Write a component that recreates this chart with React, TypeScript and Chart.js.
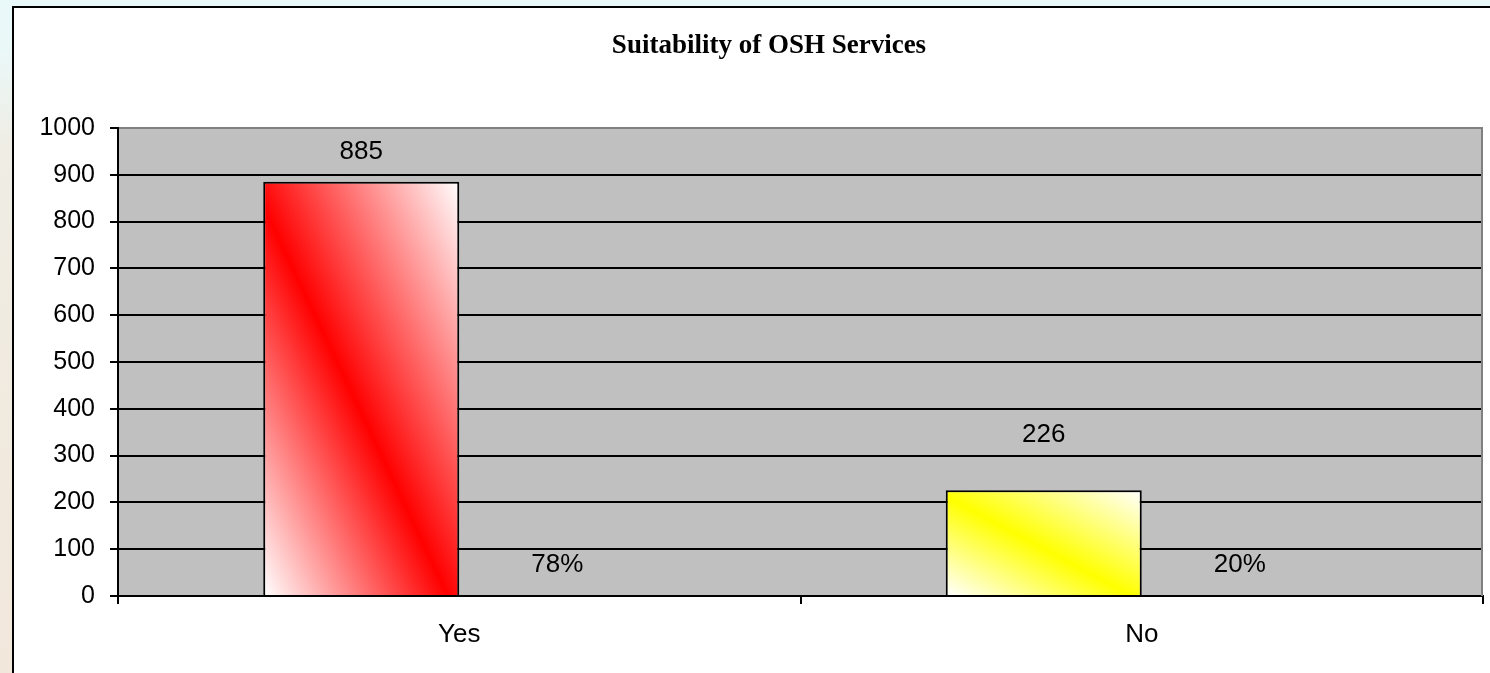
import React, { useEffect, useRef } from "react";
import { Chart, registerables } from "chart.js";

Chart.register(...registerables);

const TITLE = "Suitability of OSH Services";
const CATEGORIES = ["Yes", "No"];
const COUNTS = [885, 226];
const PERCENTS = [0.78, 0.2];
const BAR_COLORS = ["#FF0000", "#FFFF00"];
const Y_MIN = 0;
const Y_MAX = 1000;
const Y_STEP = 100;

const W = 1490;
const H = 673;

const framePlugin = {
  id: "frame",
  beforeDraw(chart: any) {
    const ctx = chart.ctx;
    const ca = chart.chartArea;
    ctx.save();
    const g = ctx.createLinearGradient(0, 0, 0, H);
    g.addColorStop(0, "#E9F8F9");
    g.addColorStop(0.07, "#EAF8F8");
    g.addColorStop(0.22, "#EFEDE4");
    g.addColorStop(1, "#F2E7DB");
    ctx.fillStyle = g;
    ctx.fillRect(0, 0, W, H);
    ctx.fillStyle = "#FFFFFF";
    ctx.fillRect(13, 7, W - 13, H - 7);
    ctx.strokeStyle = "#000000";
    ctx.lineWidth = 2;
    ctx.beginPath();
    ctx.moveTo(13, 6);
    ctx.lineTo(13, H);
    ctx.moveTo(12, 7);
    ctx.lineTo(W, 7);
    ctx.stroke();
    // plot area background
    ctx.fillStyle = "#C0C0C0";
    ctx.fillRect(ca.left, ca.top, ca.right - ca.left, ca.bottom - ca.top);
    // title
    ctx.fillStyle = "#000000";
    ctx.font = 'bold 27px "Liberation Serif"';
    ctx.textAlign = "center";
    ctx.textBaseline = "alphabetic";
    ctx.fillText(TITLE, 769, 53);
    ctx.restore();
  },
  beforeDatasetsDraw(chart: any) {
    const ctx = chart.ctx;
    const ca = chart.chartArea;
    ctx.save();
    ctx.strokeStyle = "#808080";
    ctx.lineWidth = 2;
    ctx.beginPath();
    ctx.moveTo(ca.right - 1, ca.top);
    ctx.lineTo(ca.right - 1, ca.bottom);
    ctx.stroke();
    ctx.restore();
    // gradient fills for count bars
    const meta = chart.getDatasetMeta(0);
    meta.data.forEach((el: any, i: number) => {
      const p = el.getProps(["x", "y", "base", "width"], true);
      const left = p.x - p.width / 2;
      const right = p.x + p.width / 2;
      const top = Math.min(p.y, p.base);
      const bottom = Math.max(p.y, p.base);
      const w = right - left;
      const h = bottom - top;
      const L = Math.sqrt(w * w + h * h) || 1;
      const cx = (left + right) / 2;
      const cy = (top + bottom) / 2;
      const dx = h / L;
      const dy = -w / L;
      const half = (w * h) / L;
      const grad = ctx.createLinearGradient(
        cx - dx * half,
        cy - dy * half,
        cx + dx * half,
        cy + dy * half
      );
      grad.addColorStop(0, "#FFFFFF");
      grad.addColorStop(0.47, BAR_COLORS[i % BAR_COLORS.length]);
      grad.addColorStop(1, "#FFFFFF");
      el.options.backgroundColor = grad;
    });
  },
  afterDatasetsDraw(chart: any) {
    const ctx = chart.ctx;
    const offsets = [
      [30, 55],
      [31, 31],
    ];
    ctx.save();
    ctx.fillStyle = "#000000";
    ctx.font = '26px "Liberation Sans"';
    ctx.textAlign = "center";
    ctx.textBaseline = "middle";
    chart.data.datasets.forEach((ds: any, di: number) => {
      const meta = chart.getDatasetMeta(di);
      meta.data.forEach((el: any, i: number) => {
        const p = el.getProps(["x", "y"], true);
        const v = ds.data[i];
        const text = di === 0 ? String(v) : Math.round(v * 100) + "%";
        ctx.fillText(text, p.x, p.y - offsets[di][i]);
      });
    });
    ctx.restore();
  },
};

export default function App() {
  const ref = useRef<HTMLCanvasElement>(null);
  useEffect(() => {
    if (!ref.current) return;
    const chart = new Chart(ref.current, {
      type: "bar",
      data: {
        labels: CATEGORIES,
        datasets: [
          {
            label: "Count",
            data: COUNTS,
            backgroundColor: (c: any) => BAR_COLORS[c.dataIndex % BAR_COLORS.length],
            borderColor: "#000000",
            borderWidth: 2,
            barPercentage: 1,
            categoryPercentage: 0.5744,
          },
          {
            label: "Percent",
            data: PERCENTS,
            backgroundColor: "rgba(0,0,0,0)",
            borderWidth: 0,
            barPercentage: 1,
            categoryPercentage: 0.5744,
          },
        ],
      },
      options: {
        responsive: false,
        animation: false,
        events: [],
        layout: { padding: { top: 128, right: 7, left: 0, bottom: 0 } },
        plugins: {
          legend: { display: false },
          title: { display: false },
          tooltip: { enabled: false },
        },
        scales: {
          x: {
            afterFit: (s: any) => {
              s.height = 77;
            },
            grid: {
              offset: true,
              drawOnChartArea: false,
              drawTicks: true,
              tickLength: 8,
              color: "#000000",
              lineWidth: 2,
            },
            border: { display: true, color: "#000000", width: 2 },
            ticks: {
              color: "#000000",
              font: { family: "Liberation Sans", size: 26 },
              padding: 15,
            },
          },
          y: {
            min: Y_MIN,
            max: Y_MAX,
            afterFit: (s: any) => {
              s.width = 118;
            },
            grid: {
              color: (c: any) => (c.tick && c.tick.value === Y_MAX ? "#808080" : "#000000"),
              lineWidth: 2,
              tickLength: 8,
              tickColor: "#000000",
            },
            border: { display: true, color: "#000000", width: 2 },
            ticks: {
              stepSize: Y_STEP,
              color: "#000000",
              font: { family: "Liberation Sans", size: 25 },
              padding: 15,
              callback: (v: any) => String(v),
            },
          },
        },
      },
      plugins: [framePlugin],
    });
    return () => chart.destroy();
  }, []);
  return (
    <div
      style={{
        position: "absolute",
        left: 0,
        top: 0,
        width: W,
        height: H,
        overflow: "hidden",
      }}
    >
      <canvas ref={ref} width={W} height={H} style={{ display: "block", width: W, height: H }} />
    </div>
  );
}
